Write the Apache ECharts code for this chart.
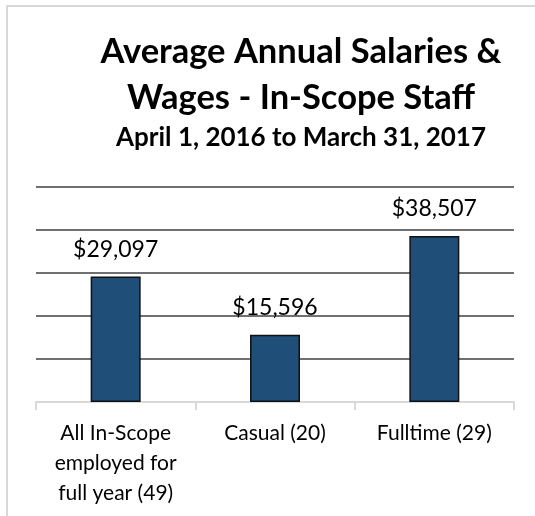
<!DOCTYPE html>
<html>
<head>
<meta charset="utf-8">
<script src="https://cdn.jsdelivr.net/npm/echarts@6/dist/echarts.min.js"></script>
<style>
  html, body { margin: 0; padding: 0; background: #fff; }
  #chart { width: 535px; height: 516px; }
</style>
</head>
<body>
<div id="chart"></div>
<script>
// values
const categories = ['All In-Scope\nemployed for\nfull year (49)', 'Casual (20)', 'Fulltime (29)'];
const salaries = [29097, 15596, 38507];
const titleLines = 'Average Annual Salaries &\nWages - In-Scope Staff';
const subTitle = 'April 1, 2016 to March 31, 2017';

const FONT = 'Lato, "Open Sans", sans-serif';

const chart = echarts.init(document.getElementById('chart'));

const money = v => '$' + String(v).replace(/\B(?=(\d{3})+(?!\d))/g, ',');

const option = {
  backgroundColor: '#fff',
  animation: false,
  // light frame of the chart area (runs off the right/bottom of the picture)
  graphic: [{
    type: 'rect',
    shape: { x: 7, y: 6, width: 600, height: 560 },
    style: { fill: 'none', stroke: '#d9d9d9', lineWidth: 2 },
    silent: true,
    z: -1
  }],
  title: {
    text: titleLines,
    subtext: subTitle,
    left: 296,
    top: 24,
    textAlign: 'center',
    itemGap: 2,
    textStyle: {
      fontFamily: FONT, fontWeight: 'bold', fontSize: 34.5, lineHeight: 46, color: '#000'
    },
    subtextStyle: {
      fontFamily: FONT, fontWeight: 'bold', fontSize: 26, lineHeight: 30, color: '#000'
    }
  },
  grid: { left: 36, right: 21, top: 186.5, bottom: 114 },
  xAxis: {
    type: 'category',
    data: categories,
    axisLine: { lineStyle: { color: '#d9d9d9', width: 2 } },
    axisTick: { show: true, length: 8, lineStyle: { color: '#d9d9d9', width: 2 } },
    axisLabel: {
      fontFamily: FONT, fontSize: 21, lineHeight: 30, color: '#000', margin: 16, interval: 0
    }
  },
  yAxis: {
    type: 'value',
    min: 0,
    max: 50000,
    interval: 10000,
    axisLabel: { show: false },
    axisLine: { show: false },
    axisTick: { show: false },
    splitLine: { show: true, showMinLine: false, lineStyle: { color: '#404040', width: 1.5 } }
  },
  series: [{
    type: 'bar',
    data: salaries,
    barWidth: 50,
    itemStyle: { color: '#1f4e79', borderColor: '#111', borderWidth: 1.5 },
    label: {
      show: true,
      position: 'top',
      distance: 16,
      formatter: p => money(p.value),
      fontFamily: FONT, fontSize: 23, color: '#000'
    }
  }]
};

chart.setOption(option);
</script>
</body>
</html>
